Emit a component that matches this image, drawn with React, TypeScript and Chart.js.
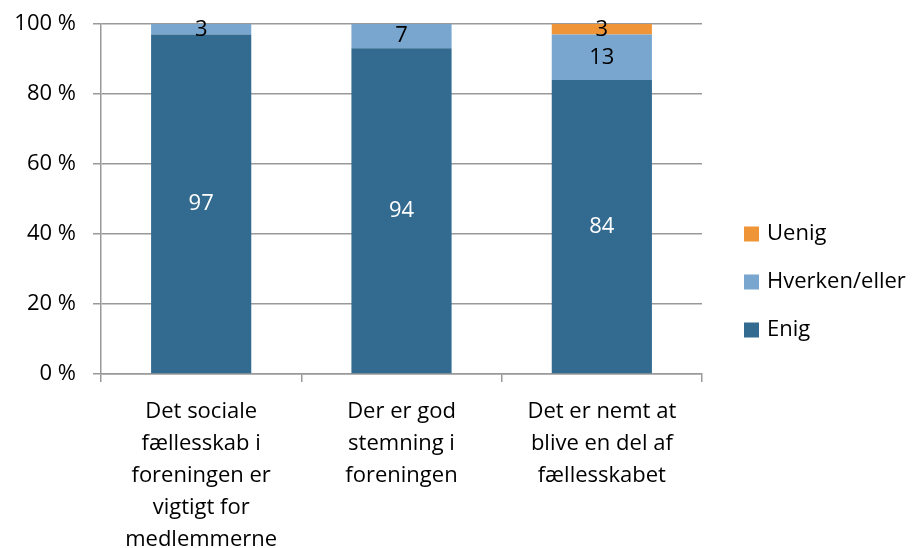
import React, { useEffect, useRef } from "react";
import { Chart, registerables } from "chart.js";

Chart.register(...registerables);

const categories: string[][] = [
  ["Det sociale", "fællesskab i", "foreningen er", "vigtigt for", "medlemmerne"],
  ["Der er god", "stemning i", "foreningen"],
  ["Det er nemt at", "blive en del af", "fællesskabet"],
];
const enig = [97, 94, 84];
const hverken = [3, 7, 13];
const uenig = [0, 0, 3];
const yTicks = [0, 20, 40, 60, 80, 100];

const FONT = "'Open Sans', Lato, sans-serif";
const FS = 22;
const totals = enig.map((v, i) => v + hverken[i] + uenig[i]);
const pct = (arr: number[]) => arr.map((v, i) => (v / totals[i]) * 100);

const seriesDefs = [
  { label: "Enig", raw: enig, color: "#336A90", text: "#ffffff" },
  { label: "Hverken/eller", raw: hverken, color: "#78A6CF", text: "#000000" },
  { label: "Uenig", raw: uenig, color: "#F09537", text: "#000000" },
];

const valueLabels = {
  id: "valueLabels",
  afterDatasetsDraw(chart: any) {
    const ctx = chart.ctx;
    ctx.save();
    ctx.font = `${FS}px ${FONT}`;
    ctx.textAlign = "center";
    ctx.textBaseline = "middle";
    chart.data.datasets.forEach((ds: any, di: number) => {
      const meta = chart.getDatasetMeta(di);
      meta.data.forEach((bar: any, i: number) => {
        const raw = ds.rawValues[i];
        if (!raw) return;
        const yc = (bar.y + bar.base) / 2;
        ctx.fillStyle = ds.textColor;
        ctx.fillText(String(raw), bar.x, yc);
      });
    });
    ctx.restore();
  },
};

const sideLegend = {
  id: "sideLegend",
  afterDraw(chart: any) {
    const ctx = chart.ctx;
    const area = chart.chartArea;
    const ds = [...chart.data.datasets].reverse();
    const x = area.right + 42;
    const gap = 48;
    const midY = (area.top + area.bottom) / 2 + 83;
    const startY = midY - ((ds.length - 1) * gap) / 2;
    ctx.save();
    ctx.font = `${FS}px ${FONT}`;
    ctx.textBaseline = "middle";
    ctx.textAlign = "left";
    ds.forEach((d: any, i: number) => {
      const y = startY + i * gap;
      ctx.fillStyle = d.backgroundColor;
      ctx.fillRect(x, y - 7.5, 15, 15);
      ctx.fillStyle = "#000000";
      ctx.fillText(d.label, x + 23, y);
    });
    ctx.restore();
  },
};

export default function App() {
  const ref = useRef<HTMLCanvasElement>(null);
  useEffect(() => {
    document.body.style.margin = "0";
    const chart = new Chart(ref.current!, {
      type: "bar",
      data: {
        labels: categories as any,
        datasets: seriesDefs.map((s) => ({
          label: s.label,
          data: pct(s.raw),
          rawValues: s.raw,
          textColor: s.text,
          backgroundColor: s.color,
          borderWidth: 0,
          barPercentage: 0.5,
          categoryPercentage: 1,
        })) as any,
      },
      options: {
        animation: false,
        responsive: false,
        maintainAspectRatio: false,
        layout: { padding: { top: 24, right: 214, left: 0, bottom: 0 } },
        plugins: { legend: { display: false }, tooltip: { enabled: false } },
        scales: {
          x: {
            stacked: true,
            grid: {
              display: true,
              offset: true,
              drawOnChartArea: false,
              drawTicks: true,
              tickLength: 8,
              color: "#999999",
              lineWidth: 1.5,
            },
            border: { display: true, color: "#999999", width: 1.5 },
            ticks: {
              color: "#000000",
              font: { family: FONT, size: FS, lineHeight: 1.45 },
              padding: 14,
              maxRotation: 0,
              autoSkip: false,
            },
            afterFit(scale: any) {
              scale.height = 174;
            },
          },
          y: {
            stacked: true,
            min: 0,
            max: 100,
            afterBuildTicks(scale: any) {
              scale.ticks = yTicks.map((v) => ({ value: v }));
            },
            grid: {
              color: "#999999",
              lineWidth: 1.5,
              tickLength: 8,
            },
            border: { display: true, color: "#999999", width: 1.5 },
            ticks: {
              color: "#000000",
              font: { family: FONT, size: FS, lineHeight: 0.5 },
              padding: 17,
              callback: (v: any) => `${v} %`,
            },
            afterFit(scale: any) {
              scale.width = 101;
            },
          },
        },
      },
      plugins: [valueLabels, sideLegend],
    });
    return () => chart.destroy();
  }, []);
  return (
    <div style={{ position: "absolute", left: 0, top: 0, width: 916, height: 548, background: "#fff" }}>
      <canvas ref={ref} width={916} height={548} style={{ width: 916, height: 548 }} />
    </div>
  );
}
